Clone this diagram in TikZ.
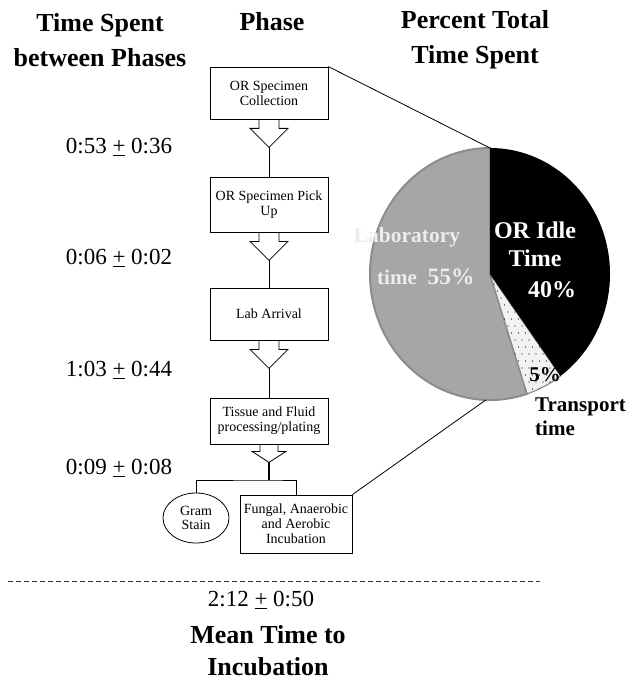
\documentclass[tikz,border=0pt]{standalone}
\usepackage{fontspec}
\setmainfont{Liberation Serif}
\usetikzlibrary{shapes.geometric,calc}
\definecolor{labgray}{HTML}{A6A6A6}
\definecolor{labedge}{HTML}{8C8C8C}
\definecolor{labtext}{HTML}{EDEDED}
\definecolor{trfill}{HTML}{F2F2F2}
\begin{document}
\begin{tikzpicture}[x=1pt,y=-1pt,
  box/.style={draw, line width=0.8pt, minimum width=118pt, align=center, inner sep=0pt,
              font=\fontsize{14}{15}\selectfont},
  hdr/.style={align=center, font=\fontsize{26}{35}\selectfont\bfseries},
  tm/.style={font=\fontsize{23}{26}\selectfont},
  wire/.style={line width=0.8pt},
  pielab/.style={align=center, font=\fontsize{23}{28}\selectfont\bfseries},
  funnel/.style={line width=0.8pt}]
\useasboundingbox (0,0) rectangle (632,687);

% headers
\node[hdr] (h1) at (100,40) {Time Spent\\between Phases};
\node[hdr] (h2) at (272,22) {Phase};
\node[hdr] (h3) at (475,40) {Percent Total\\Time Spent};

% boxes
\node[box, minimum height=52pt] (b1) at (269,93) {OR Specimen\\Collection};
\node[box, minimum height=55pt] (b2) at (269,204.5) {OR Specimen Pick\\Up};
\node[box, minimum height=52pt] (b3) at (269,314) {Lab Arrival};
\node[box, minimum height=46pt] (b4) at (269,421) {Tissue and Fluid\\processing/plating};
\node[box, minimum width=112pt, minimum height=58pt] (f) at (296,524) {Fungal, Anaerobic\\and Aerobic\\Incubation};
\node[draw, ellipse, line width=0.8pt, minimum width=66pt, minimum height=50pt, inner sep=0pt,
      align=center, font=\fontsize{14}{14.5}\selectfont] (g) at (196,518) {Gram\\Stain};

% funnels
\draw[funnel] ([xshift=-10pt]b1.south) -- ++(0,9) -- ++(-9,0) -- ++(19,19) coordinate (a1) -- ++(19,-19) -- ++(-9,0) -- ++(0,-9);
\draw[funnel] ([xshift=-10pt]b2.south) -- ++(0,9) -- ++(-9,0) -- ++(19,19) coordinate (a2) -- ++(19,-19) -- ++(-9,0) -- ++(0,-9);
\draw[funnel] ([xshift=-10pt]b3.south) -- ++(0,9) -- ++(-9,0) -- ++(19,19) coordinate (a3) -- ++(19,-19) -- ++(-9,0) -- ++(0,-9);
\draw[funnel] ([xshift=-9pt]b4.south) -- ++(0,7) -- ++(-8,0) -- ++(17,11) coordinate (a4) -- ++(17,-11) -- ++(-8,0) -- ++(0,-7);

\draw[wire] (a1) -- (b2);
\draw[wire] (a2) -- (b3);
\draw[wire] (a3) -- (b4);
\coordinate (br) at (269,480);
\draw[line width=2pt] (a4) -- (br);
\draw[wire] (g.north) |- (br) -| (f.north);

% time labels
\node[tm] (t1) at (119,147) {0:53 \underline{+} 0:36};
\node[tm] (t2) at (119,258) {0:06 \underline{+} 0:02};
\node[tm] (t3) at (119,370) {1:03 \underline{+} 0:44};
\node[tm] (t4) at (119,468) {0:09 \underline{+} 0:08};

% pie
\coordinate (pc) at (490,274);
\filldraw[fill=labgray, draw=labedge, line width=2pt] (pc) -- ++(72:120 and 126)
   arc[start angle=72, end angle=270, x radius=120, y radius=126] -- cycle;
\filldraw[fill=trfill, draw=labedge, line width=1.2pt] (pc) -- ++(54:120 and 126)
   arc[start angle=54, end angle=72, x radius=120, y radius=126] -- cycle;
\begin{scope}
  \clip (pc) -- ++(54:120 and 126) arc[start angle=54, end angle=72, x radius=120, y radius=126] -- cycle;
  \foreach \i in {0,...,16}{
    \foreach \j in {0,...,20}{
      \pgfmathsetmacro{\xx}{480+\i*7+mod(\j,2)*3.5}
      \pgfmathsetmacro{\yy}{270+\j*7}
      \fill[black] (\xx,\yy) circle[radius=0.7pt];
    }
  }
\end{scope}
\fill[black] (pc) -- ++(-90:120 and 126)
   arc[start angle=-90, end angle=54, x radius=120, y radius=126] -- cycle;
\coordinate (ptop) at ($(pc)+(-90:120 and 126)$);
\coordinate (pbot) at ($(pc)+(92:120 and 126)$);

\draw[wire] (b1.north east) -- (ptop);
\draw[wire] (f.north east) -- (pbot);

% pie labels
\node[pielab, text=white, font=\fontsize{24}{28}\selectfont\bfseries] (l1) at (535,244) {OR Idle\\Time};
\node[pielab, text=white, font=\fontsize{24}{28}\selectfont\bfseries] (l2) at (552,290) {40\%};
\node[pielab, text=labtext, font=\fontsize{21.5}{26}\selectfont\bfseries] (l3) at (407,237) {Laboratory};
\node[pielab, text=labtext, font=\fontsize{21}{26}\selectfont\bfseries] (l4) at (397,277) {time};
\node[pielab, text=labtext, font=\fontsize{23.5}{26}\selectfont\bfseries] (l5) at (451,277) {55\%};
\node[pielab, text=black, font=\fontsize{21}{26}\selectfont\bfseries] (l6) at (545,375) {5\%};
\node[anchor=west, inner sep=0pt, font=\fontsize{21}{26}\selectfont\bfseries] (l7) at (535,407) {Transport};
\node[anchor=west, inner sep=0pt, font=\fontsize{21}{26}\selectfont\bfseries] (l8) at (535,428) {time};

% bottom
\coordinate (d1) at (8,581);
\coordinate (d2) at (540,581);
\draw[line width=0.8pt, dash pattern=on 5pt off 3pt, black!80] (d1) -- (d2);
\node[tm] (tot) at (261,600) {2:12 \underline{+} 0:50};
\node[hdr, font=\fontsize{26}{32}\selectfont\bfseries] (mt) at (268,651) {Mean Time to\\Incubation};
\end{tikzpicture}
\end{document}
